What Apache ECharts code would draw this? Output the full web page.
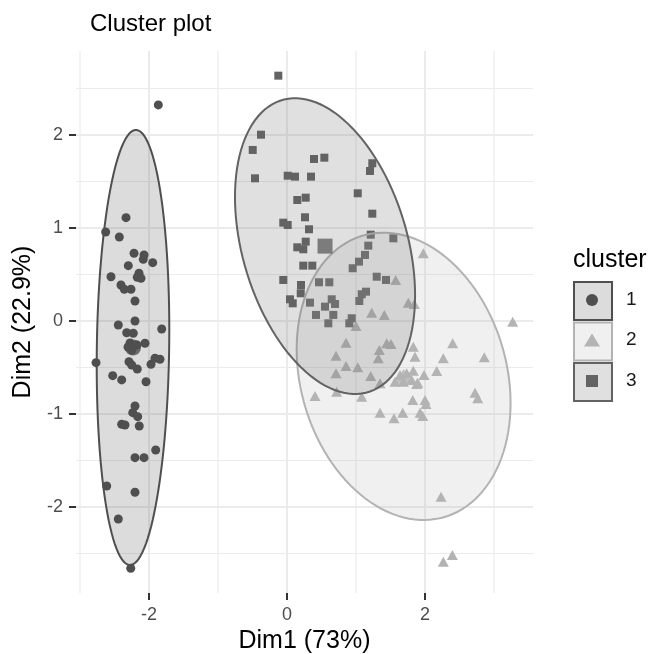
<!DOCTYPE html>
<html>
<head>
<meta charset="utf-8">
<script src="https://cdn.jsdelivr.net/npm/echarts@6/dist/echarts.min.js"></script>
<style>
  html, body { margin: 0; padding: 0; background: #fff; }
  #chart { width: 649px; height: 654px; }
</style>
</head>
<body>
<div id="chart"></div>
<script>
// PCA scores (Dim1, Dim2) for each k-means cluster
const clusterNames = ['1', '2', '3'];
const clusterColors = ['#4f4f4f', '#b3b3b3', '#636363'];
const clusterSymbols = ['circle', 'triangle', 'rect'];

const cluster1 = [
  [-1.865, 2.323], [-2.333, 1.111], [-2.628, 0.957], [-2.430, 0.903], [-2.217, 0.728],
  [-2.072, 0.710], [-2.083, 0.663], [-1.946, 0.627], [-2.300, 0.595], [-2.145, 0.513],
  [-2.170, 0.470], [-2.116, 0.459], [-2.551, 0.476], [-2.406, 0.387], [-2.358, 0.341],
  [-2.261, 0.341], [-2.203, 0.215], [-2.203, 0.000], [-2.445, -0.043], [-1.816, -0.086],
  [-2.323, -0.126], [-2.228, -0.132], [-2.275, -0.237], [-2.174, -0.258], [-2.246, -0.312],
  [-2.304, -0.280], [-2.058, -0.240], [-2.768, -0.448], [-2.290, -0.438], [-2.251, -0.473],
  [-2.170, -0.516], [-1.971, -0.466], [-1.913, -0.401], [-1.841, -0.412], [-2.526, -0.588],
  [-2.396, -0.634], [-2.043, -0.653], [-2.203, -0.914], [-2.236, -0.986], [-2.164, -1.029],
  [-2.396, -1.111], [-2.348, -1.118], [-2.141, -1.129], [-1.903, -1.387], [-2.203, -1.470],
  [-2.072, -1.470], [-2.613, -1.774], [-2.203, -1.842], [-2.445, -2.129], [-2.265, -2.659]
];

const cluster2 = [
  [1.975, 0.728], [1.575, 0.441], [1.758, 0.197], [1.845, 0.183], [1.228, 0.089],
  [1.410, 0.065], [1.000, -0.054], [3.271, -0.008], [0.855, -0.233], [1.445, -0.240],
  [1.507, -0.247], [2.401, -0.240], [1.338, -0.312], [1.830, -0.276], [0.710, -0.373],
  [1.323, -0.401], [1.855, -0.384], [2.265, -0.401], [2.859, -0.390], [0.855, -0.484],
  [1.025, -0.498], [0.710, -0.562], [1.213, -0.591], [1.638, -0.581], [1.735, -0.562],
  [1.807, -0.634], [1.830, -0.534], [1.986, -0.581], [2.170, -0.538], [1.565, -0.653],
  [1.348, -0.670], [1.894, -0.663], [0.720, -0.760], [0.406, -0.806], [1.083, -0.814],
  [2.725, -0.771], [1.348, -0.986], [1.551, -1.046], [1.677, -0.986], [1.822, -0.849],
  [2.000, -0.849], [2.014, -0.892], [1.928, -0.986], [1.967, -1.022], [1.686, -0.653],
  [1.880, -0.677], [2.764, -0.831], [2.232, -1.889], [2.396, -2.516], [2.265, -2.588]
];

const cluster3 = [
  [-0.126, 2.638], [-0.377, 2.003], [-0.497, 1.839], [-0.464, 1.534], [0.391, 1.742],
  [0.541, 1.756], [1.236, 1.696], [1.203, 1.613], [0.010, 1.562], [0.116, 1.552],
  [0.348, 1.552], [1.025, 1.373], [0.149, 1.301], [0.271, 1.326], [0.261, 1.115],
  [1.236, 1.154], [-0.054, 1.057], [0.010, 1.032], [0.319, 0.986], [1.213, 0.928],
  [1.541, 0.889], [0.271, 0.853], [0.149, 0.792], [0.236, 0.771], [1.178, 0.810],
  [1.130, 0.710], [1.043, 0.638], [0.952, 0.567], [0.236, 0.595], [0.367, 0.595],
  [-0.054, 0.441], [0.203, 0.387], [0.199, 0.298], [0.464, 0.416], [0.613, 0.416],
  [1.300, 0.476], [1.435, 0.441], [1.145, 0.315], [1.083, 0.287], [1.048, 0.215],
  [0.043, 0.233], [0.083, 0.190], [0.333, 0.197], [0.648, 0.233], [0.696, 0.183],
  [0.551, 0.154], [0.420, 0.065], [0.671, 0.065], [0.599, -0.025], [0.938, 0.029],
  [0.903, -0.025]
];

// cluster means
const clusterCenters = [[-2.232, -0.285], [1.690, -0.595], [0.551, 0.805]];
// 95% normal ellipse spread per cluster: [sd along Dim1, sd along Dim2, covariance term]
const ellipseSpread = [[0.526, 2.339, 0.100], [1.550, 1.545, -0.448], [1.305, 1.590, -0.690]];

const xTicks = [-2, 0, 2];
const yTicks = [-2, -1, 0, 1, 2];
const xMinor = [-3, -1, 1, 3];
const yMinor = [-2.5, -1.5, -0.5, 0.5, 1.5, 2.5];

const FONT = "'Liberation Sans', Arial, Helvetica, sans-serif";

function withAlpha(hex, a) {
  const n = parseInt(hex.slice(1), 16);
  return `rgba(${(n >> 16) & 255},${(n >> 8) & 255},${n & 255},${a})`;
}

// grid lines: [value, 0 = vertical / 1 = horizontal, 1 = major / 0 = minor]
const gridLines = [
  ...xMinor.map(v => [v, 0, 0]), ...yMinor.map(v => [v, 1, 0]),
  ...xTicks.map(v => [v, 0, 1]), ...yTicks.map(v => [v, 1, 1])
];

function ellipsePoints(i, api) {
  const [cx, cy] = clusterCenters[i];
  const [w, h, c] = ellipseSpread[i];
  const l11 = w, l21 = c / w, l22 = Math.sqrt(h * h - l21 * l21);
  const pts = [];
  for (let k = 0; k < 120; k++) {
    const t = (k / 120) * Math.PI * 2;
    pts.push(api.coord([cx + l11 * Math.cos(t), cy + l21 * Math.cos(t) + l22 * Math.sin(t)]));
  }
  return pts;
}

const chart = echarts.init(document.getElementById('chart'), null, { renderer: 'canvas' });

const pointSeries = [cluster1, cluster2, cluster3].map((pts, i) => ({
  name: clusterNames[i],
  type: 'scatter',
  data: pts,
  symbol: clusterSymbols[i],
  symbolSize: i === 1 ? [11, 10] : (i === 2 ? 8 : 9),
  itemStyle: { color: clusterColors[i], opacity: 1 },
  z: 3,
  silent: true,
  animation: false
}));

const legendX = 573, legendY0 = 281, keySize = 38, keyGap = 40.5;
const legendGraphics = [
  { type: 'text', left: legendX, top: 248,
    style: { text: 'cluster', fill: '#000', font: `25px ${FONT}` } }
];
clusterNames.forEach((name, i) => {
  const y = legendY0 + i * keyGap;
  const cx = legendX + keySize / 2, cy = y + keySize / 2;
  legendGraphics.push({
    type: 'rect', left: legendX, top: y,
    shape: { width: keySize, height: keySize },
    style: { fill: withAlpha(clusterColors[i], 0.2), stroke: clusterColors[i], lineWidth: 2 }
  });
  let sym;
  if (i === 0) sym = { type: 'circle', shape: { cx, cy, r: 6 } };
  else if (i === 1) sym = { type: 'polygon', shape: { points: [[cx, cy - 7], [cx + 8, cy + 6], [cx - 8, cy + 6]] } };
  else sym = { type: 'rect', shape: { x: cx - 6, y: cy - 6, width: 12, height: 12 } };
  sym.style = { fill: clusterColors[i] };
  legendGraphics.push(sym);
  legendGraphics.push({
    type: 'text', left: legendX + keySize + 15, top: cy - 10,
    style: { text: name, fill: '#1a1a1a', font: `19px ${FONT}` }
  });
});

chart.setOption({
  animation: false,
  backgroundColor: '#fff',
  title: {
    text: 'Cluster plot', left: 85, top: 7,
    textStyle: { fontFamily: FONT, fontSize: 24, fontWeight: 'normal', color: '#000' }
  },
  grid: { left: 76, right: 116, top: 51, bottom: 61, containLabel: false, outerBoundsMode: 'none' },
  xAxis: {
    type: 'value', min: -3.058, max: 3.565,
    name: 'Dim1 (73%)', nameLocation: 'middle', nameGap: 36,
    nameTextStyle: { fontFamily: FONT, fontSize: 25, color: '#000' },
    axisLine: { show: false, onZero: false },
    axisTick: { show: true, length: 7, customValues: xTicks, lineStyle: { color: '#333', width: 2 } },
    axisLabel: { customValues: xTicks, margin: 13, fontFamily: FONT, fontSize: 18, color: '#4d4d4d' },
    splitLine: { show: false }
  },
  yAxis: {
    type: 'value', min: -2.925, max: 2.903,
    name: 'Dim2 (22.9%)', nameLocation: 'middle', nameGap: 39, nameRotate: 90,
    nameTextStyle: { fontFamily: FONT, fontSize: 25, color: '#000' },
    axisLine: { show: false, onZero: false },
    axisTick: { show: true, length: 7, customValues: yTicks, lineStyle: { color: '#333', width: 2 } },
    axisLabel: { customValues: yTicks, margin: 13, fontFamily: FONT, fontSize: 18, color: '#4d4d4d' },
    splitLine: { show: false }
  },
  graphic: legendGraphics,
  series: [
    {
      type: 'custom',
      data: gridLines,
      silent: true,
      z: 1,
      renderItem(params, api) {
        const cs = params.coordSys;
        const v = api.value(0), horiz = api.value(1) === 1, major = api.value(2) === 1;
        const style = { stroke: '#ebebeb', lineWidth: major ? 2 : 1.2 };
        if (horiz) {
          const y = api.coord([0, v])[1];
          return { type: 'line', shape: { x1: cs.x, y1: y, x2: cs.x + cs.width, y2: y }, style };
        }
        const x = api.coord([v, 0])[0];
        return { type: 'line', shape: { x1: x, y1: cs.y, x2: x, y2: cs.y + cs.height }, style };
      }
    },
    ...pointSeries,
    {
      type: 'custom',
      data: clusterCenters.map((c, i) => [c[0], c[1], i]),
      silent: true,
      z: 4,
      renderItem(params, api) {
        const i = api.value(2);
        return {
          type: 'polygon',
          shape: { points: ellipsePoints(i, api) },
          style: { fill: withAlpha(clusterColors[i], 0.2), stroke: clusterColors[i], lineWidth: 2 }
        };
      }
    },
    {
      type: 'scatter',
      data: clusterCenters.map((c, i) => ({
        value: c,
        symbol: clusterSymbols[i],
        symbolSize: i === 1 ? [17, 15] : (i === 2 ? 15 : 16),
        itemStyle: { color: clusterColors[i] }
      })),
      z: 5,
      silent: true
    }
  ]
});
</script>
</body>
</html>
